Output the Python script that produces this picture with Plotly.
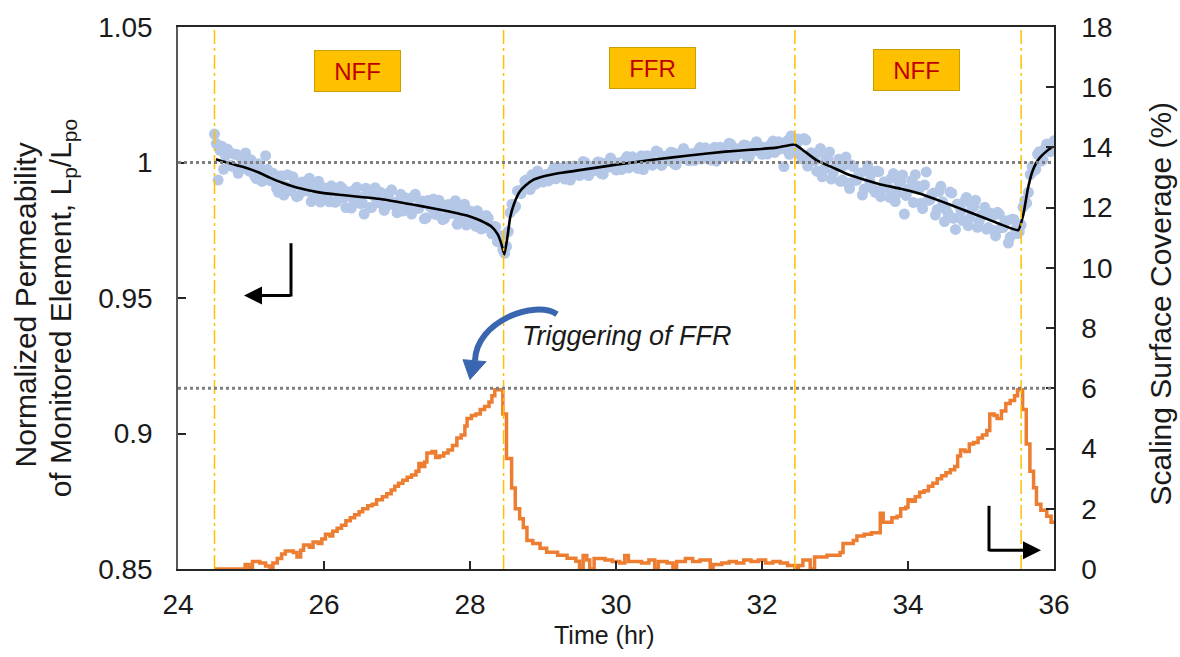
import plotly.graph_objects as go

# ---------------- data ----------------
# Measured normalized permeability of the monitored element (left axis), 3-min log
t_meas = [
    24.500, 24.525, 24.550, 24.575, 24.600, 24.625, 24.650, 24.675, 24.700, 24.725,
    24.750, 24.775, 24.800, 24.825, 24.850, 24.875, 24.900, 24.925, 24.950, 24.975,
    25.000, 25.025, 25.050, 25.075, 25.100, 25.125, 25.150, 25.175, 25.200, 25.225,
    25.250, 25.275, 25.300, 25.325, 25.350, 25.375, 25.400, 25.425, 25.450, 25.475,
    25.500, 25.525, 25.550, 25.575, 25.600, 25.625, 25.650, 25.675, 25.700, 25.725,
    25.750, 25.775, 25.800, 25.825, 25.850, 25.875, 25.900, 25.925, 25.950, 25.975,
    26.000, 26.025, 26.050, 26.075, 26.100, 26.125, 26.150, 26.175, 26.200, 26.225,
    26.250, 26.275, 26.300, 26.325, 26.350, 26.375, 26.400, 26.425, 26.450, 26.475,
    26.500, 26.525, 26.550, 26.575, 26.600, 26.625, 26.650, 26.675, 26.700, 26.725,
    26.750, 26.775, 26.800, 26.825, 26.850, 26.875, 26.900, 26.925, 26.950, 26.975,
    27.000, 27.025, 27.050, 27.075, 27.100, 27.125, 27.150, 27.175, 27.200, 27.225,
    27.250, 27.275, 27.300, 27.325, 27.350, 27.375, 27.400, 27.425, 27.450, 27.475,
    27.500, 27.525, 27.550, 27.575, 27.600, 27.625, 27.650, 27.675, 27.700, 27.725,
    27.750, 27.775, 27.800, 27.825, 27.850, 27.875, 27.900, 27.925, 27.950, 27.975,
    28.000, 28.025, 28.050, 28.075, 28.100, 28.125, 28.150, 28.175, 28.200, 28.225,
    28.250, 28.275, 28.300, 28.325, 28.350, 28.375, 28.400, 28.425, 28.450, 28.475,
    28.500, 28.525, 28.550, 28.575, 28.600, 28.625, 28.650, 28.675, 28.700, 28.725,
    28.750, 28.775, 28.800, 28.825, 28.850, 28.875, 28.900, 28.925, 28.950, 28.975,
    29.000, 29.025, 29.050, 29.075, 29.100, 29.125, 29.150, 29.175, 29.200, 29.225,
    29.250, 29.275, 29.300, 29.325, 29.350, 29.375, 29.400, 29.425, 29.450, 29.475,
    29.500, 29.525, 29.550, 29.575, 29.600, 29.625, 29.650, 29.675, 29.700, 29.725,
    29.750, 29.775, 29.800, 29.825, 29.850, 29.875, 29.900, 29.925, 29.950, 29.975,
    30.000, 30.025, 30.050, 30.075, 30.100, 30.125, 30.150, 30.175, 30.200, 30.225,
    30.250, 30.275, 30.300, 30.325, 30.350, 30.375, 30.400, 30.425, 30.450, 30.475,
    30.500, 30.525, 30.550, 30.575, 30.600, 30.625, 30.650, 30.675, 30.700, 30.725,
    30.750, 30.775, 30.800, 30.825, 30.850, 30.875, 30.900, 30.925, 30.950, 30.975,
    31.000, 31.025, 31.050, 31.075, 31.100, 31.125, 31.150, 31.175, 31.200, 31.225,
    31.250, 31.275, 31.300, 31.325, 31.350, 31.375, 31.400, 31.425, 31.450, 31.475,
    31.500, 31.525, 31.550, 31.575, 31.600, 31.625, 31.650, 31.675, 31.700, 31.725,
    31.750, 31.775, 31.800, 31.825, 31.850, 31.875, 31.900, 31.925, 31.950, 31.975,
    32.000, 32.025, 32.050, 32.075, 32.100, 32.125, 32.150, 32.175, 32.200, 32.225,
    32.250, 32.275, 32.300, 32.325, 32.350, 32.375, 32.400, 32.425, 32.450, 32.475,
    32.500, 32.525, 32.550, 32.575, 32.600, 32.625, 32.650, 32.675, 32.700, 32.725,
    32.750, 32.775, 32.800, 32.825, 32.850, 32.875, 32.900, 32.925, 32.950, 32.975,
    33.000, 33.025, 33.050, 33.075, 33.100, 33.125, 33.150, 33.175, 33.200, 33.225,
    33.250, 33.275, 33.300, 33.325, 33.350, 33.375, 33.400, 33.425, 33.450, 33.475,
    33.500, 33.525, 33.550, 33.575, 33.600, 33.625, 33.650, 33.675, 33.700, 33.725,
    33.750, 33.775, 33.800, 33.825, 33.850, 33.875, 33.900, 33.925, 33.950, 33.975,
    34.000, 34.025, 34.050, 34.075, 34.100, 34.125, 34.150, 34.175, 34.200, 34.225,
    34.250, 34.275, 34.300, 34.325, 34.350, 34.375, 34.400, 34.425, 34.450, 34.475,
    34.500, 34.525, 34.550, 34.575, 34.600, 34.625, 34.650, 34.675, 34.700, 34.725,
    34.750, 34.775, 34.800, 34.825, 34.850, 34.875, 34.900, 34.925, 34.950, 34.975,
    35.000, 35.025, 35.050, 35.075, 35.100, 35.125, 35.150, 35.175, 35.200, 35.225,
    35.250, 35.275, 35.300, 35.325, 35.350, 35.375, 35.400, 35.425, 35.450, 35.475,
    35.500, 35.525, 35.550, 35.575, 35.600, 35.625, 35.650, 35.675, 35.700, 35.725,
    35.750, 35.775, 35.800, 35.825, 35.850, 35.875, 35.900, 35.925, 35.950, 35.975,
    36.000,
]
lp_meas = [
    1.0105, 1.0070, 0.9935, 1.0045, 1.0060, 0.9975, 1.0025, 1.0050, 1.0040, 0.9990,
    0.9985, 1.0030, 1.0030, 0.9960, 0.9975, 1.0010, 1.0015, 1.0035, 0.9990, 0.9968,
    1.0010, 0.9985, 0.9950, 0.9940, 0.9995, 0.9980, 0.9930, 0.9935, 1.0025, 0.9975,
    0.9935, 0.9932, 0.9960, 0.9940, 0.9905, 0.9890, 0.9950, 0.9950, 0.9880, 0.9912,
    0.9955, 0.9897, 0.9895, 0.9947, 0.9925, 0.9874, 0.9877, 0.9915, 0.9928, 0.9897,
    0.9895, 0.9924, 0.9942, 0.9856, 0.9869, 0.9908, 0.9902, 0.9931, 0.9854, 0.9873,
    0.9907, 0.9892, 0.9871, 0.9855, 0.9914, 0.9904, 0.9853, 0.9857, 0.9886, 0.9911,
    0.9905, 0.9870, 0.9834, 0.9888, 0.9892, 0.9832, 0.9866, 0.9900, 0.9909, 0.9874,
    0.9848, 0.9852, 0.9810, 0.9905, 0.9890, 0.9834, 0.9834, 0.9878, 0.9907, 0.9861,
    0.9851, 0.9890, 0.9874, 0.9823, 0.9837, 0.9876, 0.9890, 0.9899, 0.9852, 0.9841,
    0.9815, 0.9859, 0.9883, 0.9821, 0.9825, 0.9869, 0.9858, 0.9821, 0.9810, 0.9874,
    0.9883, 0.9832, 0.9831, 0.9850, 0.9858, 0.9792, 0.9796, 0.9860, 0.9838, 0.9832,
    0.9865, 0.9809, 0.9808, 0.9861, 0.9840, 0.9789, 0.9793, 0.9831, 0.9845, 0.9813,
    0.9812, 0.9840, 0.9859, 0.9772, 0.9786, 0.9824, 0.9818, 0.9846, 0.9769, 0.9788,
    0.9821, 0.9804, 0.9782, 0.9765, 0.9822, 0.9809, 0.9755, 0.9757, 0.9783, 0.9804,
    0.9795, 0.9756, 0.9737, 0.9765, 0.9763, 0.9708, 0.9720, 0.9730, 0.9678, 0.9665,
    0.9690, 0.9745, 0.9815, 0.9846, 0.9830, 0.9838, 0.9895, 0.9896, 0.9885, 0.9902,
    0.9932, 0.9936, 0.9905, 0.9900, 0.9955, 0.9947, 0.9920, 0.9969, 0.9958, 0.9935,
    0.9928, 0.9954, 0.9956, 0.9932, 0.9939, 0.9969, 0.9981, 0.9940, 0.9949, 0.9981,
    0.9972, 0.9956, 0.9939, 0.9972, 0.9986, 0.9935, 0.9963, 0.9987, 0.9985, 0.9971,
    0.9952, 0.9959, 1.0004, 1.0000, 0.9961, 0.9952, 0.9983, 0.9986, 0.9970, 0.9977,
    1.0002, 1.0001, 0.9959, 0.9957, 0.9996, 0.9998, 0.9983, 1.0017, 1.0005, 0.9980,
    0.9972, 0.9997, 0.9999, 0.9974, 0.9981, 1.0011, 1.0022, 0.9980, 0.9989, 1.0021,
    1.0011, 0.9995, 0.9978, 1.0011, 1.0025, 0.9974, 1.0001, 1.0025, 1.0023, 1.0009,
    0.9990, 0.9997, 1.0042, 1.0038, 0.9998, 0.9989, 1.0020, 1.0023, 1.0006, 1.0013,
    1.0038, 1.0037, 0.9994, 0.9992, 1.0031, 1.0033, 1.0018, 1.0052, 1.0039, 1.0014,
    1.0006, 1.0031, 1.0032, 1.0007, 1.0014, 1.0044, 1.0055, 1.0013, 1.0022, 1.0054,
    1.0043, 1.0027, 1.0009, 1.0042, 1.0056, 1.0005, 1.0032, 1.0056, 1.0054, 1.0040,
    1.0020, 1.0027, 1.0071, 1.0067, 1.0027, 1.0018, 1.0048, 1.0051, 1.0034, 1.0041,
    1.0065, 1.0064, 1.0021, 1.0019, 1.0057, 1.0059, 1.0043, 1.0077, 1.0064, 1.0039,
    1.0030, 1.0055, 1.0056, 1.0031, 1.0038, 1.0068, 1.0079, 1.0037, 1.0045, 1.0077,
    1.0067, 1.0051, 0.9985, 1.0067, 1.0081, 1.0030, 1.0098, 1.0083, 1.0052, 1.0070,
    1.0087, 1.0027, 1.0013, 1.0089, 1.0083, 0.9987, 1.0013, 1.0036, 1.0028, 1.0006,
    0.9968, 1.0038, 1.0052, 0.9947, 0.9976, 1.0013, 1.0015, 1.0039, 0.9939, 0.9961,
    0.9983, 0.9982, 1.0012, 0.9930, 0.9936, 0.9989, 1.0020, 0.9924, 0.9904, 0.9991,
    0.9985, 0.9934, 0.9935, 0.9956, 0.9961, 0.9880, 0.9902, 0.9968, 0.9988, 0.9931,
    0.9959, 0.9901, 0.9890, 0.9969, 0.9966, 0.9874, 0.9903, 0.9929, 0.9924, 0.9906,
    0.9871, 0.9943, 0.9959, 0.9856, 0.9886, 0.9925, 0.9928, 0.9954, 0.9810, 0.9878,
    0.9901, 0.9902, 0.9933, 0.9852, 0.9955, 0.9913, 0.9900, 0.9850, 0.9830, 0.9917,
    0.9965, 0.9861, 0.9862, 0.9883, 0.9887, 0.9806, 0.9827, 0.9893, 0.9912, 0.9855,
    0.9782, 0.9824, 0.9812, 0.9891, 0.9887, 0.9794, 0.9753, 0.9847, 0.9841, 0.9822,
    0.9786, 0.9857, 0.9871, 0.9767, 0.9796, 0.9834, 0.9836, 0.9861, 0.9761, 0.9783,
    0.9805, 0.9805, 0.9835, 0.9754, 0.9760, 0.9814, 0.9800, 0.9749, 0.9729, 0.9816,
    0.9809, 0.9759, 0.9760, 0.9780, 0.9785, 0.9703, 0.9725, 0.9791, 0.9790, 0.9753,
    0.9738, 0.9745, 0.9770, 0.9835, 0.9860, 0.9850, 0.9890, 0.9955, 0.9985, 0.9970,
    0.9975, 1.0030, 1.0040, 1.0005, 1.0010, 1.0050, 1.0068, 1.0060, 1.0040, 1.0070,
    1.0080,
]

# Model fit of the normalized permeability (left axis)
t_model = [
    24.52, 24.60, 24.70, 24.80, 24.95, 25.10, 25.25, 25.40, 25.60, 25.80,
    26.00, 26.25, 26.50, 26.75, 27.00, 27.25, 27.45, 27.70, 28.00, 28.15,
    28.30, 28.38, 28.43, 28.47, 28.51, 28.55, 28.60, 28.68, 28.76, 28.86,
    29.00, 29.23, 29.50, 29.78, 30.00, 30.50, 31.00, 31.50, 31.84, 32.20,
    32.45, 32.55, 32.75, 33.00, 33.20, 33.45, 33.66, 33.90, 34.12, 34.35,
    34.58, 34.80, 35.03, 35.25, 35.51, 35.58, 35.64, 35.70, 35.76, 35.81,
    35.90, 35.97,
]
lp_model = [
    1.0012, 1.0005, 0.9998, 0.9990, 0.9979, 0.9964, 0.9945, 0.9928, 0.9910, 0.9897,
    0.9887, 0.9880, 0.9873, 0.9866, 0.9855, 0.9843, 0.9833, 0.9820, 0.9801, 0.9785,
    0.9762, 0.9735, 0.9700, 0.9660, 0.9720, 0.9797, 0.9845, 0.9892, 0.9915, 0.9935,
    0.9948, 0.9961, 0.9972, 0.9983, 0.9992, 1.0010, 1.0026, 1.0040, 1.0047, 1.0055,
    1.0066, 1.0048, 1.0008, 0.9978, 0.9954, 0.9933, 0.9917, 0.9903, 0.9888, 0.9867,
    0.9844, 0.9821, 0.9797, 0.9774, 0.9750, 0.9808, 0.9900, 0.9964, 1.0000, 1.0019,
    1.0042, 1.0056,
]

# Scaling surface coverage, stepwise (right axis, %)
t_cov = [
    24.50, 24.92, 24.97, 25.02, 25.12, 25.20, 25.26, 25.30, 25.36, 25.42,
    25.47, 25.58, 25.63, 25.68, 25.72, 25.80, 25.85, 25.92, 25.97, 26.02,
    26.08, 26.12, 26.18, 26.24, 26.30, 26.36, 26.42, 26.48, 26.53, 26.60,
    26.66, 26.72, 26.80, 26.86, 26.92, 26.97, 27.02, 27.08, 27.14, 27.20,
    27.26, 27.30, 27.34, 27.38, 27.41, 27.48, 27.53, 27.58, 27.64, 27.70,
    27.76, 27.82, 27.88, 27.93, 27.96, 28.02, 28.08, 28.14, 28.20, 28.26,
    28.30, 28.34, 28.45, 28.50, 28.57, 28.62, 28.68, 28.73, 28.78, 28.86,
    28.96, 29.05, 29.20, 29.33, 29.45, 29.50, 29.55, 29.60, 29.64, 29.70,
    29.85, 29.95, 30.05, 30.12, 30.17, 30.35, 30.45, 30.53, 30.58, 30.70,
    30.78, 30.83, 30.95, 31.05, 31.15, 31.29, 31.33, 31.45, 31.55, 31.65,
    31.75, 31.85, 31.95, 32.05, 32.15, 32.25, 32.35, 32.45, 32.50, 32.56,
    32.66, 32.72, 32.89, 33.07, 33.11, 33.25, 33.30, 33.40, 33.50, 33.62,
    33.66, 33.78, 33.85, 33.90, 33.97, 34.00, 34.05, 34.10, 34.16, 34.22,
    34.28, 34.34, 34.40, 34.46, 34.52, 34.58, 34.64, 34.68, 34.72, 34.78,
    34.84, 34.90, 34.96, 35.02, 35.08, 35.12, 35.18, 35.22, 35.28, 35.34,
    35.40, 35.46, 35.50, 35.57, 35.62, 35.67, 35.72, 35.76, 35.82, 35.90,
    35.96, 36.00,
]
cov = [
    0.00, 0.15, 0.05, 0.25, 0.20, 0.10, 0.00, 0.20, 0.35, 0.50,
    0.60, 0.55, 0.40, 0.62, 0.80, 0.72, 0.90, 0.85, 1.00, 1.15,
    1.10, 1.25, 1.35, 1.45, 1.60, 1.70, 1.80, 1.90, 2.00, 2.10,
    2.15, 2.30, 2.40, 2.50, 2.62, 2.75, 2.85, 2.95, 3.05, 3.12,
    3.25, 3.50, 3.40, 3.55, 3.85, 3.90, 3.70, 3.75, 3.85, 3.95,
    4.10, 4.35, 4.45, 4.75, 5.00, 5.10, 5.15, 5.30, 5.40, 5.55,
    5.75, 5.95, 5.15, 3.67, 2.69, 2.00, 1.67, 1.38, 0.95, 0.85,
    0.69, 0.56, 0.46, 0.36, 0.26, 0.00, 0.45, 0.30, 0.00, 0.35,
    0.30, 0.25, 0.20, 0.45, 0.25, 0.20, 0.30, 0.00, 0.25, 0.20,
    0.05, 0.25, 0.35, 0.25, 0.30, 0.00, 0.15, 0.20, 0.25, 0.20,
    0.30, 0.25, 0.30, 0.20, 0.25, 0.20, 0.12, 0.00, 0.12, 0.30,
    0.00, 0.40, 0.46, 0.55, 0.85, 0.95, 1.10, 1.15, 1.20, 1.85,
    1.55, 1.70, 1.75, 2.00, 2.05, 2.30, 2.25, 2.40, 2.55, 2.60,
    2.75, 2.85, 3.00, 3.10, 3.20, 3.30, 3.40, 3.75, 3.95, 3.90,
    4.15, 4.20, 4.35, 4.45, 4.60, 5.15, 5.10, 5.00, 5.25, 5.50,
    5.60, 5.75, 5.95, 5.30, 4.15, 3.25, 2.70, 2.15, 1.95, 1.75,
    1.55, 1.50,
]

# Operating regime switch times (hr) and regime labels
regime_bounds = [24.5, 28.46, 32.45, 35.55]
regime_names = ["NFF", "FFR", "NFF"]
lp_reference = 1.0          # normalized permeability baseline
coverage_trigger = 6.0      # surface coverage that triggers FFR (%)

x_ticks = [24, 26, 28, 30, 32, 34, 36]
y_ticks = [0.85, 0.90, 0.95, 1.00, 1.05]
y_ticktext = ["0.85", "0.9", "0.95", "1", "1.05"]
y2_ticks = [0, 2, 4, 6, 8, 10, 12, 14, 16, 18]

# ---------------- layout geometry ----------------
W, H = 1180, 657
ML, MR, MT, MB = 178, 126, 20, 88
PW, PH = W - ML - MR, H - MT - MB


def paper(px, py):
    """Page pixel position -> paper coordinates."""
    return (px - ML) / PW, (H - MB - py) / PH


FONT = "Arial, 'Liberation Sans', sans-serif"
TXT = "#1a1a1a"

fig = go.Figure()

fig.add_trace(go.Scatter(
    x=t_meas, y=lp_meas, mode="markers",
    marker=dict(size=11, color="#B4C7E7", line=dict(width=0)),
    hoverinfo="skip", showlegend=False,
))
fig.add_trace(go.Scatter(
    x=t_model, y=lp_model, mode="lines",
    line=dict(color="black", width=2.6, shape="spline", smoothing=0.4),
    showlegend=False,
))
fig.add_trace(go.Scatter(
    x=t_cov, y=cov, mode="lines", yaxis="y2",
    line=dict(color="#ED7D31", width=3.5, shape="hv"),
    showlegend=False,
))

shapes = []
# regime switch markers
for tb in regime_bounds:
    shapes.append(dict(type="line", xref="x", yref="paper", x0=tb, x1=tb, y0=0, y1=1,
                       line=dict(color="#FFC000", width=1.5, dash="14px,4px,3px,4px"),
                       layer="above"))
# baseline and trigger level
shapes.append(dict(type="line", xref="paper", yref="y", x0=0, x1=1,
                   y0=lp_reference, y1=lp_reference,
                   line=dict(color="#7F7F7F", width=3, dash="3px,3px"), layer="above"))
shapes.append(dict(type="line", xref="paper", yref="y2", x0=0, x1=1,
                   y0=coverage_trigger, y1=coverage_trigger,
                   line=dict(color="#7F7F7F", width=3, dash="3px,3px"), layer="above"))

# L-shaped axis pointers (vertical legs)
x0, y0 = paper(291, 239)
x1, y1 = paper(291, 293)
shapes.append(dict(type="line", xref="paper", yref="paper", x0=x0, y0=y0, x1=x1, y1=y1,
                   line=dict(color="black", width=3)))
x0, y0 = paper(989, 505)
x1, y1 = paper(989, 551)
shapes.append(dict(type="line", xref="paper", yref="paper", x0=x0, y0=y0, x1=x1, y1=y1,
                   line=dict(color="black", width=3)))

# curved "trigger" arrow
c = [paper(*p) for p in [(557, 311), (535, 296), (476, 318), (475, 358)]]
curve = "M {0[0]},{0[1]} C {1[0]},{1[1]} {2[0]},{2[1]} {3[0]},{3[1]}".format(*c)
shapes.append(dict(type="path", xref="paper", yref="paper", path=curve,
                   line=dict(color="#3A66B0", width=6)))
h = [paper(*p) for p in [(463, 357), (486, 359), (470, 377)]]
head = "M {0[0]},{0[1]} L {1[0]},{1[1]} L {2[0]},{2[1]} Z".format(*h)
shapes.append(dict(type="path", xref="paper", yref="paper", path=head,
                   fillcolor="#3A66B0", line=dict(color="#3A66B0", width=1)))

annotations = []
# regime label boxes
box_centers = [(357.5, 64.5), (652, 62), (916.5, 63.5)]
for name, (bx, by) in zip(regime_names, box_centers):
    ax_, ay_ = paper(bx, by)
    annotations.append(dict(
        text=name, xref="paper", yref="paper", x=ax_, y=ay_,
        xanchor="center", yanchor="middle", showarrow=False,
        width=85, height=40, borderpad=0, borderwidth=1,
        bgcolor="#FFC000", bordercolor="#C9A000",
        font=dict(family=FONT, size=24, color="#C00000"),
    ))

# horizontal legs of the axis pointers, with arrowheads (tail offset in pixels)
for (tx, ty), tail_dx in [((244, 292), 48), ((1041, 550), -53)]:
    px_, py_ = paper(tx, ty)
    annotations.append(dict(
        x=px_, y=py_, ax=tail_dx, ay=0, xref="paper", yref="paper",
        axref="pixel", ayref="pixel", text="", showarrow=True,
        arrowhead=2, arrowsize=1.2, arrowwidth=3, arrowcolor="black",
        standoff=0, startstandoff=0,
    ))

tx, ty = paper(627, 333)
annotations.append(dict(
    text="<i>Triggering of FFR</i>", xref="paper", yref="paper", x=tx, y=ty,
    xanchor="center", yanchor="middle", showarrow=False,
    font=dict(family=FONT, size=27, color=TXT),
))

# axis titles
title_font = dict(family=FONT, size=30, color=TXT)
for text, (cx, cy) in [("Normalized Permeability", (25, 302)),
                       ("of Monitored Element, L<sub>p</sub>/L<sub>po</sub>", (62, 305))]:
    tx, ty = paper(cx, cy)
    annotations.append(dict(
        text=text, xref="paper", yref="paper", x=tx, y=ty, textangle=-90,
        xanchor="center", yanchor="middle", showarrow=False, font=title_font,
    ))
tx, ty = paper(1160, 300)
annotations.append(dict(
    text="Scaling Surface Coverage (%)", xref="paper", yref="paper", x=tx, y=ty,
    textangle=-90, xanchor="center", yanchor="middle", showarrow=False,
    font=title_font,
))
tx, ty = paper(604, 636)
annotations.append(dict(
    text="Time (hr)", xref="paper", yref="paper", x=tx, y=ty,
    xanchor="center", yanchor="middle", showarrow=False,
    font=dict(family=FONT, size=25, color=TXT),
))

tickfont = dict(family=FONT, size=28, color=TXT)
fig.update_layout(
    width=W, height=H,
    margin=dict(l=ML, r=MR, t=MT, b=MB, pad=0),
    paper_bgcolor="white", plot_bgcolor="white",
    showlegend=False,
    xaxis=dict(range=[24, 36], tickvals=x_ticks, ticks="inside", ticklen=8,
               tickwidth=1.5, tickcolor="#262626", showgrid=False, zeroline=False,
               showline=True, linecolor="#262626", linewidth=1.5, mirror=True,
               tickfont=tickfont, ticklabelstandoff=10),
    yaxis=dict(range=[0.85, 1.05], tickvals=y_ticks, ticktext=y_ticktext,
               ticks="inside", ticklen=8, tickwidth=1.5, tickcolor="#262626",
               showgrid=False, zeroline=False, showline=True, linecolor="#595959",
               linewidth=1.5, tickfont=tickfont, ticklabelstandoff=18),
    yaxis2=dict(range=[0, 18], tickvals=y2_ticks, overlaying="y", side="right",
                ticks="inside", ticklen=8, tickwidth=1.5, tickcolor="#262626",
                showgrid=False, zeroline=False, showline=True, linecolor="#262626",
                linewidth=1.5, tickfont=tickfont, ticklabelstandoff=20),
    shapes=shapes,
    annotations=annotations,
)

fig.write_html("out.html")
